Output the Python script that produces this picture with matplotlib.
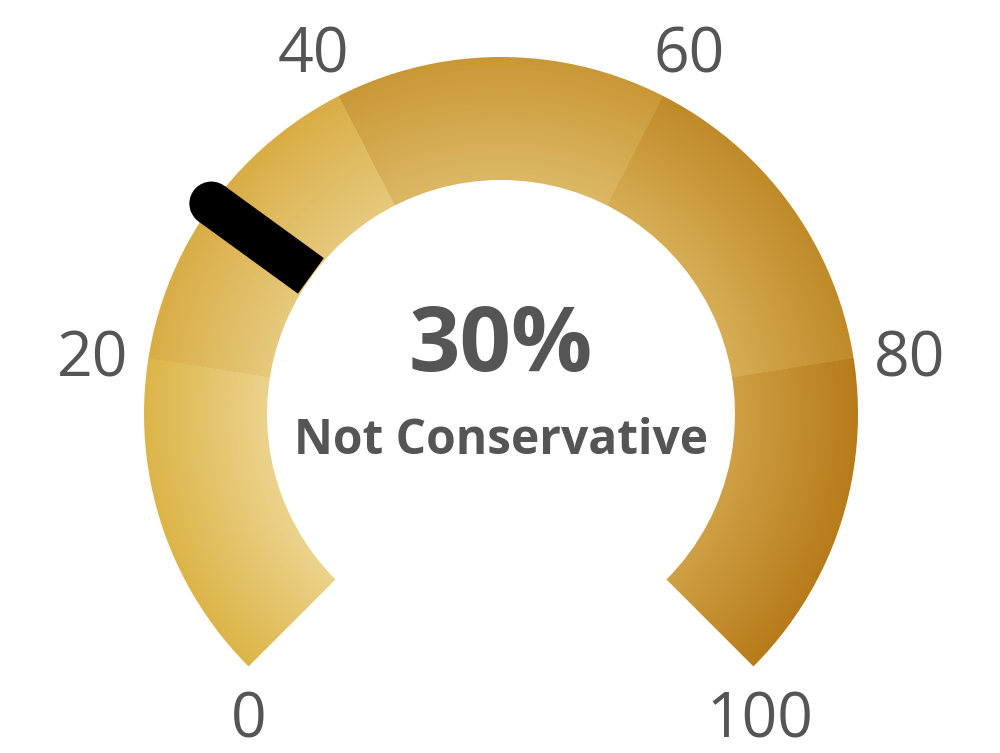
import numpy as np
import matplotlib.pyplot as plt
from matplotlib.patches import Wedge, Polygon, Circle

# Gauge data
band_edges = [0, 20, 40, 60, 80, 100]
band_inner = ['#ecd38c', '#e6c97c', '#dcb865', '#d6ad55', '#cfa045']
band_outer = ['#dcb548', '#d9ad45', '#c99836', '#c08a28', '#b77b1a']
tick_values = [0, 20, 40, 60, 80, 100]
value = 30
caption = 'Not Conservative'

# Geometry (pixels, y up)
W, H = 1000, 753
cx, cy = 501, 339
r_out, r_in = 357, 234
a_start, a_span = 225, 270
vmin, vmax = band_edges[0], band_edges[-1]


def to_angle(v):
    return a_start - a_span * (v - vmin) / (vmax - vmin)


def hex_rgb(c):
    c = c.lstrip('#')
    return np.array([int(c[i:i + 2], 16) / 255 for i in (0, 2, 4)])


plt.rcParams['font.family'] = ['Open Sans', 'DejaVu Sans']

fig = plt.figure(figsize=(W / 100, H / 100), dpi=100)
ax = fig.add_axes([0, 0, 1, 1])
ax.set_xlim(0, W)
ax.set_ylim(0, H)
ax.axis('off')

# radial gradient per band, clipped to the ring
X, Y = np.meshgrid(np.arange(W) + 0.5, np.arange(H) + 0.5)
r = np.hypot(X - cx, Y - cy)
th = np.degrees(np.arctan2(Y - cy, X - cx))
th = np.where(th <= a_start - 360, th + 360, th)
v = vmin + (a_start - th) / a_span * (vmax - vmin)
idx = np.clip(np.searchsorted(band_edges, v, side='right') - 1, 0, len(band_inner) - 1)
t = np.clip((r - r_in) / (r_out - r_in), 0, 1)[..., None]
inner = np.array([hex_rgb(c) for c in band_inner])[idx]
outer = np.array([hex_rgb(c) for c in band_outer])[idx]
img = inner * (1 - t) + outer * t

ring = Wedge((cx, cy), r_out, to_angle(vmax), to_angle(vmin), width=r_out - r_in,
             facecolor='none', edgecolor='none')
ax.add_patch(ring)
im = ax.imshow(img, extent=(0, W, 0, H), origin='lower', interpolation='bilinear')
im.set_clip_path(ring)

# needle
a = np.radians(to_angle(value))
d = np.array([np.cos(a), np.sin(a)])
n = np.array([-d[1], d[0]])
hw = 22
p0 = np.array([cx, cy]) + d * (r_in + 1)
p1 = np.array([cx, cy]) + d * (r_out + 1)
ax.add_patch(Polygon([p0 + n * hw, p1 + n * hw, p1 - n * hw, p0 - n * hw],
                     closed=True, facecolor='black', edgecolor='none'))
ax.add_patch(Circle(p1, hw, facecolor='black', edgecolor='none'))

# tick labels
for tv in tick_values:
    ang = np.radians(to_angle(tv))
    if tv in (vmin, vmax):
        x = cx + r_out * np.cos(ang) + (6 if tv == vmax else 0)
        y = cy + r_out * np.sin(ang) - 55
    else:
        x = cx + 414 * np.cos(ang)
        y = cy + 414 * np.sin(ang) - 11
    ax.text(x, y, str(tv), fontsize=45, color='#555555', ha='center', va='center')

# center text
ax.text(cx, H - 348, f'{value}%', fontsize=65, fontweight='bold', color='#555555',
        ha='center', va='center')
ax.text(cx, H - 441, caption, fontsize=34.5, fontweight='bold', color='#555555',
        ha='center', va='center')

fig.savefig('out.png', dpi=100)
